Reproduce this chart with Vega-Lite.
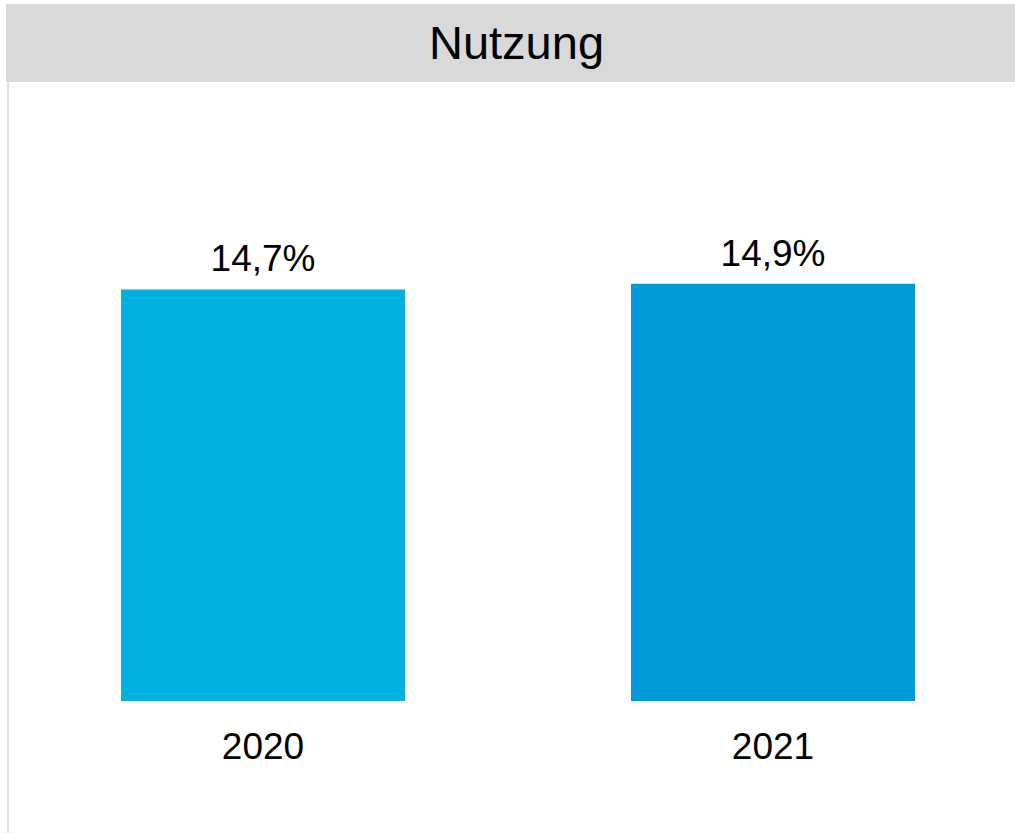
{
  "$schema": "https://vega.github.io/schema/vega-lite/v6.json",
  "padding": {"left": 6, "top": 4, "right": 0, "bottom": 0},
  "autosize": {"type": "pad"},
  "background": "white",
  "spacing": 0,
  "bounds": "flush",
  "config": {
    "font": "Liberation Sans",
    "view": {"stroke": null},
    "locale": {"number": {"decimal": ",", "thousands": ".", "grouping": [3], "currency": ["", " €"]}}
  },
  "datasets": {
    "usage": [
      {"year": "2020", "share": 0.147},
      {"year": "2021", "share": 0.149}
    ],
    "header": [{"title": "Nutzung"}]
  },
  "vconcat": [
    {
      "width": 1009,
      "height": 78,
      "view": {"fill": "#D9D9D9", "stroke": null},
      "data": {"name": "header"},
      "mark": {"type": "text", "fontSize": 47, "color": "#000000", "baseline": "middle", "align": "center", "dy": 2, "dx": 6},
      "encoding": {
        "x": {"field": "title", "type": "nominal", "axis": null},
        "text": {"field": "title"}
      }
    },
    {
      "width": 1009,
      "height": 751,
      "data": {"name": "usage"},
      "encoding": {
        "x": {
          "field": "year",
          "type": "nominal",
          "scale": {"paddingInner": 0.443, "paddingOuter": 0.2107, "align": 0.535},
          "axis": {
            "title": null,
            "orient": "bottom",
            "offset": -75,
            "domain": false,
            "ticks": false,
            "tickSize": 0,
            "labelPadding": 0,
            "labelBaseline": "alphabetic",
            "labelAngle": 0,
            "labelFontSize": 37,
            "labelColor": "#000000",
            "grid": false
          }
        },
        "y": {
          "field": "share",
          "type": "quantitative",
          "scale": {"domain": [-0.04714, 0.22107], "nice": false, "zero": false},
          "axis": {
            "title": null,
            "labels": false,
            "ticks": false,
            "grid": false,
            "domain": true,
            "domainColor": "#E0E0E0",
            "domainWidth": 2,
            "offset": -1.5
          }
        }
      },
      "layer": [
        {
          "mark": {"type": "bar"},
          "encoding": {
            "y2": {"datum": 0},
            "color": {
              "field": "year",
              "type": "nominal",
              "scale": {"domain": ["2020", "2021"], "range": ["#00B0E0", "#0099D9"]},
              "legend": null
            }
          }
        },
        {
          "mark": {"type": "text", "baseline": "alphabetic", "dy": -18, "fontSize": 37, "color": "#000000"},
          "encoding": {
            "text": {"field": "share", "type": "quantitative", "format": ".1%"}
          }
        }
      ]
    }
  ]
}
